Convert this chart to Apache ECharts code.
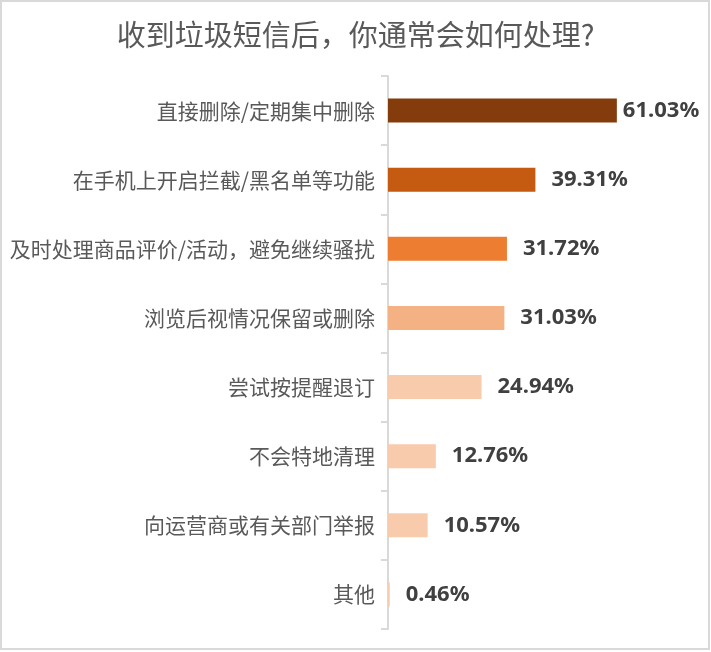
<!DOCTYPE html>
<html>
<head>
<meta charset="utf-8">
<script src="https://cdn.jsdelivr.net/npm/echarts@6/dist/echarts.min.js"></script>
<style>
html,body{margin:0;padding:0;background:#fff;}
#chart{width:711px;height:652px;}
</style>
</head>
<body>
<div id="chart"></div>
<script>
const titleText = '收到垃圾短信后，你通常会如何处理?';
const categories = ['直接删除/定期集中删除','在手机上开启拦截/黑名单等功能','及时处理商品评价/活动，避免继续骚扰','浏览后视情况保留或删除','尝试按提醒退订','不会特地清理','向运营商或有关部门举报','其他'];
const values = [61.03, 39.31, 31.72, 31.03, 24.94, 12.76, 10.57, 0.46];
const barColors = ['#843C0C','#C55A11','#ED7D31','#F4B183','#F8CBAD','#F8CBAD','#F8CBAD','#F8CBAD'];

const chart = echarts.init(document.getElementById('chart'));
chart.setOption({
  backgroundColor: '#ffffff',
  animation: false,
  title: {
    text: titleText,
    left: 'center',
    top: 15,
    textStyle: {fontFamily: 'Noto Sans CJK SC', fontSize: 29, fontWeight: 'normal', color: '#595959'}
  },
  graphic: [{
    type: 'rect',
    shape: {x: 1, y: 1, width: 708, height: 648},
    style: {fill: 'none', stroke: '#d9d9d9', lineWidth: 2},
    silent: true
  }],
  grid: {left: 388, top: 76, width: 262.5, bottom: 23, containLabel: false},
  xAxis: {
    type: 'value', min: 0, max: 70, show: false,
    splitLine: {show: false}
  },
  yAxis: {
    type: 'category',
    data: categories,
    inverse: true,
    axisLine: {show: true, lineStyle: {color: '#d9d9d9', width: 2}},
    axisTick: {show: true, length: 7, alignWithLabel: false, lineStyle: {color: '#d9d9d9', width: 2}},
    axisLabel: {margin: 13, fontFamily: 'Noto Sans CJK SC', fontSize: 21, color: '#595959'}
  },
  series: [{
    type: 'bar',
    barWidth: 24,
    data: values.map((v, i) => ({
      value: v,
      itemStyle: {color: barColors[i]},
      label: {distance: i === 0 ? 6 : 16}
    })),
    label: {
      show: true,
      position: 'right',
      formatter: p => p.value.toFixed(2) + '%',
      fontFamily: 'Noto Sans', fontWeight: 'bold', fontSize: 22, color: '#404040'
    }
  }]
});
</script>
</body>
</html>
